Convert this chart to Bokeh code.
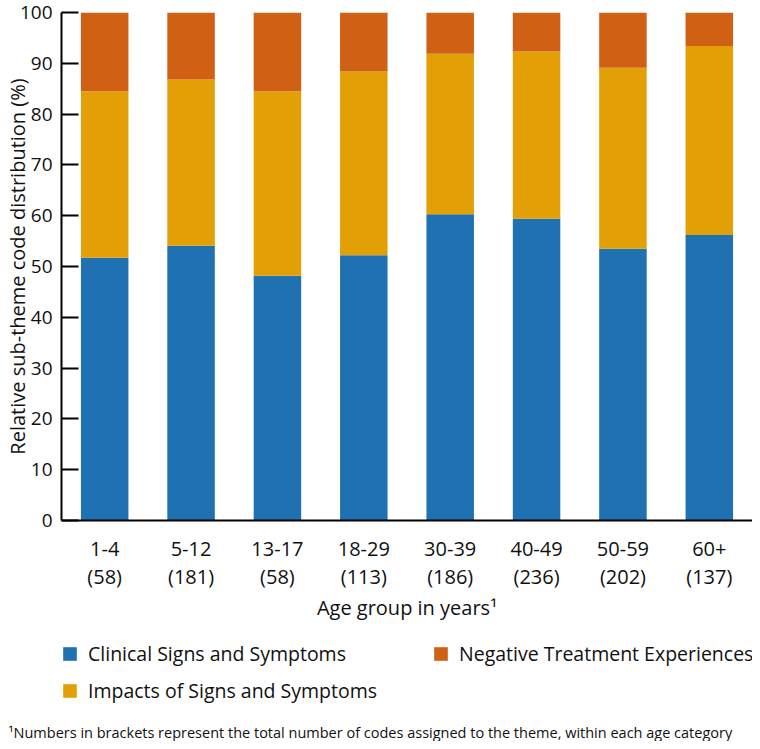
from bokeh.plotting import figure
from bokeh.layouts import column
from bokeh.models import (Legend, LegendItem, Title, FixedTicker, Range1d,
                          FactorRange, ColumnDataSource)
from bokeh.embed import file_html
from bokeh.resources import INLINE

# ---- data ----
ages = ["1-4", "5-12", "13-17", "18-29", "30-39", "40-49", "50-59", "60+"]
counts = [58, 181, 58, 113, 186, 236, 202, 137]
clinical = [51.7, 54.1, 48.2, 52.2, 60.3, 59.4, 53.5, 56.2]
impacts = [32.8, 32.7, 36.3, 36.2, 31.6, 32.9, 35.6, 37.2]
negative = [15.5, 13.2, 15.5, 11.6, 8.1, 7.7, 10.9, 6.6]
series = ["Clinical Signs and Symptoms", "Impacts of Signs and Symptoms",
          "Negative Treatment Experiences"]
colors = ["#1f71b2", "#e39f06", "#d06014"]
y_ticks = list(range(0, 101, 10))
footnote = ("\u00b9Numbers in brackets represent the total number of codes "
            "assigned to the theme, within each age category")

FONT = "Open Sans"
TXT = "#111111"

factors = [f"{a}\n({n})" for a, n in zip(ages, counts)]
source = ColumnDataSource(dict(age=factors, clinical=clinical,
                               impacts=impacts, negative=negative))

p = figure(x_range=FactorRange(*factors, range_padding=0),
           y_range=Range1d(0, 100),
           width=752, height=628, output_backend="svg",
           toolbar_location=None, min_border_top=12, min_border_right=0,
           min_border_left=55, min_border_bottom=108)
p.outline_line_color = None
p.grid.grid_line_color = None

rs = p.vbar_stack(["clinical", "impacts", "negative"], x="age", width=0.55,
                  source=source, color=colors, line_color=None)

# y axis
ya = p.yaxis[0]
ya.ticker = FixedTicker(ticks=y_ticks)
ya.minor_tick_line_color = None
ya.major_tick_in = 17
ya.major_tick_out = 0
ya.major_tick_line_width = 2
ya.axis_line_width = 2
ya.major_label_standoff = 9
ya.major_label_text_font = FONT
ya.major_label_text_font_size = "19px"
ya.major_label_text_color = TXT
ya.axis_label = "Relative sub-theme code distribution (%)"
ya.axis_label_text_font = FONT
ya.axis_label_text_font_size = "20px"
ya.axis_label_text_font_style = "normal"
ya.axis_label_text_color = TXT
ya.axis_label_standoff = -14

# x axis
xa = p.xaxis[0]
xa.major_tick_line_color = None
xa.minor_tick_line_color = None
xa.axis_line_width = 2
xa.major_label_text_font = FONT
xa.major_label_text_font_size = "20px"
xa.major_label_text_line_height = 1.05
xa.major_label_text_color = TXT
xa.major_label_standoff = 8
xa.axis_label = "Age group in years\u00b9"
xa.axis_label_text_font = FONT
xa.axis_label_text_font_size = "20px"
xa.axis_label_text_font_style = "normal"
xa.axis_label_text_color = TXT
xa.axis_label_standoff = 1

# ---- legend + footnote panel (frame aligned with the chart frame) ----
p2 = figure(width=752, height=113, output_backend="svg", toolbar_location=None,
            x_range=Range1d(0, 697), y_range=Range1d(0, 93),
            x_axis_location=None, y_axis_location=None,
            min_border_left=55, min_border_right=0,
            min_border_top=0, min_border_bottom=20)
p2.outline_line_color = None
p2.grid.grid_line_color = None
dummies = [p2.vbar(x=[0], top=[0], width=0, color=c, line_color=None)
           for c in colors]

legend = Legend(items=[LegendItem(label=series[0], renderers=[dummies[0]]),
                       LegendItem(label=series[1], renderers=[dummies[1]]),
                       LegendItem(label=series[2], renderers=[dummies[2]])],
                orientation="vertical", nrows=2,
                location=(0, 16), margin=0, padding=0,
                spacing=10, glyph_width=17, glyph_height=17,
                label_height=17, label_standoff=10, label_width=334,
                label_text_font=FONT, label_text_font_size="19.5px",
                label_text_color=TXT,
                border_line_color=None, background_fill_alpha=0)
p2.add_layout(legend)

foot = Title(text=footnote, align="left", offset=-53, standoff=0,
             text_font=FONT, text_font_size="14.5px",
             text_font_style="normal", text_color=TXT)
p2.add_layout(foot, "below")

open("out.html", "w").write(file_html(column(p, p2), INLINE))
